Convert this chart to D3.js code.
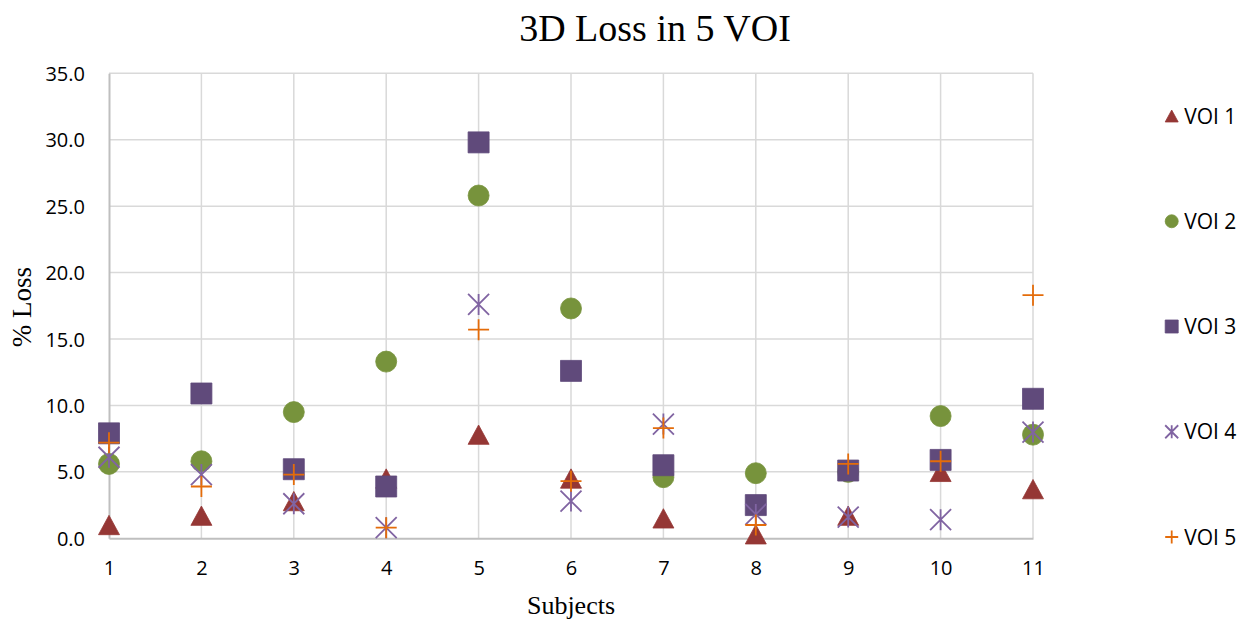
<!DOCTYPE html>
<html>
<head>
<meta charset="utf-8">
<script src="https://cdn.jsdelivr.net/npm/d3@7"></script>
<style>
  html, body { margin: 0; padding: 0; background: #fff; }
  svg { display: block; }
</style>
</head>
<body>
<svg id="chart" width="1247" height="622"></svg>
<script>
// Percentage loss per subject for five volumes of interest
const subjects = [1, 2, 3, 4, 5, 6, 7, 8, 9, 10, 11];
const voi1 = [1.0, 1.7, 2.8, 4.5, 7.8, 4.5, 1.5, 0.3, 1.7, 5.0, 3.7];
const voi2 = [5.6, 5.8, 9.5, 13.3, 25.8, 17.3, 4.6, 4.9, 5.0, 9.2, 7.8];
const voi3 = [7.9, 10.9, 5.2, 3.9, 29.8, 12.6, 5.5, 2.5, 5.1, 5.9, 10.5];
const voi4 = [6.1, 4.8, 2.6, 0.8, 17.6, 2.8, 8.6, 1.8, 1.6, 1.4, 8.0];
const voi5 = [7.2, 3.9, 4.8, 0.8, 15.7, 4.3, 8.3, 1.0, 5.6, 5.8, 18.3];
const seriesNames = ["VOI 1", "VOI 2", "VOI 3", "VOI 4", "VOI 5"];
const yTicks = [0, 5, 10, 15, 20, 25, 30, 35];

const series = [
  { name: seriesNames[0], values: voi1, shape: "triangle", color: "#953735" },
  { name: seriesNames[1], values: voi2, shape: "circle",   color: "#77933C" },
  { name: seriesNames[2], values: voi3, shape: "square",   color: "#604A7B" },
  { name: seriesNames[3], values: voi4, shape: "star",     color: "#8064A2" },
  { name: seriesNames[4], values: voi5, shape: "plus",     color: "#E46C0A" }
];

const svg = d3.select("#chart");
const plot = { left: 109, right: 1033, top: 73.3, bottom: 538.3 };

const x = d3.scaleLinear().domain([1, 11]).range([plot.left, plot.right]);
const y = d3.scaleLinear().domain([0, 35]).range([plot.bottom, plot.top]);

const labelFont = "'Open Sans', sans-serif";
const serifFont = "'Liberation Serif', 'Times New Roman', serif";

// Gridlines
const grid = svg.append("g");
grid.selectAll("line.h").data(yTicks.filter(d => d > 0)).join("line")
  .attr("x1", plot.left).attr("x2", plot.right)
  .attr("y1", d => y(d)).attr("y2", d => y(d))
  .attr("stroke", "#d9d9d9").attr("stroke-width", 1.5);
grid.selectAll("line.v").data(subjects.filter(d => d > 1)).join("line")
  .attr("y1", plot.top).attr("y2", plot.bottom)
  .attr("x1", d => x(d)).attr("x2", d => x(d))
  .attr("stroke", "#d9d9d9").attr("stroke-width", 1.5);

// Axes
const yAxis = d3.axisLeft(y).tickValues(yTicks).tickFormat(d3.format(".1f")).tickSize(0).tickPadding(24);
const xAxis = d3.axisBottom(x).tickValues(subjects).tickFormat(d3.format("d")).tickSize(0).tickPadding(23);

const gy = svg.append("g").attr("transform", `translate(${plot.left},0)`).call(yAxis);
const gx = svg.append("g").attr("transform", `translate(0,${plot.bottom})`).call(xAxis);
[gx, gy].forEach(g => {
  g.select(".domain").attr("stroke", "#bfbfbf").attr("stroke-width", 2);
  g.selectAll("text").attr("font-family", labelFont)
    .attr("font-size", 20).attr("fill", "#000");
});
gy.selectAll("text").attr("dy", "0.35em");

// Marker shapes
function markerPath(shape, s) {
  const h = s / 2;
  switch (shape) {
    case "triangle": {
      const th = s * 0.92;
      return `M0,${-th / 2}L${h},${th / 2}L${-h},${th / 2}Z`;
    }
    case "circle":
      return `M${h},0A${h},${h} 0 1,1 ${-h},0A${h},${h} 0 1,1 ${h},0Z`;
    case "square":
      return `M${-h},${-h}H${h}V${h}H${-h}Z`;
    case "star":
      return `M${-h},${-h}L${h},${h}M${h},${-h}L${-h},${h}M0,${-h}V${h}`;
    case "plus":
      return `M${-h},0H${h}M0,${-h}V${h}`;
  }
}
function styleMarker(sel, d) {
  const filled = d.shape === "triangle" || d.shape === "circle" || d.shape === "square";
  sel.attr("fill", filled ? d.color : "none")
    .attr("stroke", d.color)
    .attr("stroke-width", filled ? 0.8 : 1.8);
}

const markers = svg.append("g");
series.forEach(s => {
  const g = markers.append("g");
  g.selectAll("path").data(subjects.map((sub, i) => ({ sub, v: s.values[i] }))).join("path")
    .attr("transform", d => `translate(${x(d.sub)},${y(d.v)})`)
    .attr("d", markerPath(s.shape, 21))
    .call(sel => styleMarker(sel, s));
});

// Legend
const legend = svg.append("g");
const legendY = d3.scalePoint().domain(seriesNames).range([116, 537]);
series.forEach(s => {
  const g = legend.append("g").attr("transform", `translate(1171.7,${legendY(s.name)})`);
  g.append("path").attr("d", markerPath(s.shape, 13)).call(sel => styleMarker(sel, s));
  g.append("text").attr("x", 12.5).attr("dy", "0.36em")
    .attr("font-family", labelFont).attr("font-size", 21)
    .attr("fill", "#000").text(s.name);
});

// Titles
svg.append("text").attr("x", 655).attr("y", 41).attr("text-anchor", "middle")
  .attr("font-family", serifFont).attr("font-size", 38)
  .attr("fill", "#000").text("3D Loss in 5 VOI");
svg.append("text").attr("x", 571).attr("y", 614).attr("text-anchor", "middle")
  .attr("font-family", serifFont).attr("font-size", 26)
  .attr("fill", "#000").text("Subjects");
svg.append("text").attr("transform", "translate(31,307) rotate(-90)").attr("text-anchor", "middle")
  .attr("font-family", serifFont).attr("font-size", 27)
  .attr("fill", "#000").text("% Loss");
</script>
</body>
</html>
